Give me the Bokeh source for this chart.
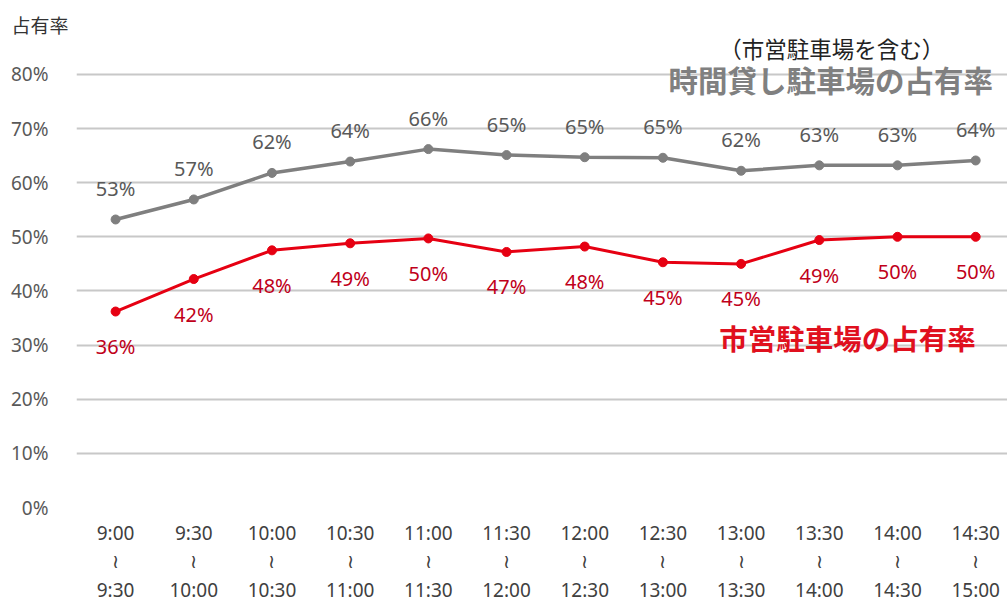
from bokeh.plotting import figure
from bokeh.models import Range1d, FixedTicker, Label, ColumnDataSource
from bokeh.embed import file_html
from bokeh.resources import INLINE
from bokeh.core.properties import value

# ---- data ----
start_times = ["9:00", "9:30", "10:00", "10:30", "11:00", "11:30",
               "12:00", "12:30", "13:00", "13:30", "14:00", "14:30"]
end_times = ["9:30", "10:00", "10:30", "11:00", "11:30", "12:00",
             "12:30", "13:00", "13:30", "14:00", "14:30", "15:00"]
hourly_rate = [53.2, 56.9, 61.8, 63.9, 66.2, 65.1, 64.7, 64.6, 62.2, 63.2, 63.2, 64.1]
hourly_labels = ["53%", "57%", "62%", "64%", "66%", "65%", "65%", "65%", "62%", "63%", "63%", "64%"]
city_rate = [36.2, 42.2, 47.5, 48.8, 49.7, 47.2, 48.2, 45.3, 45.0, 49.4, 50.0, 50.0]
city_labels = ["36%", "42%", "48%", "49%", "50%", "47%", "48%", "45%", "45%", "49%", "50%", "50%"]
y_ticks = [0, 10, 20, 30, 40, 50, 60, 70, 80]

n = len(start_times)
xs = [i + 0.5 for i in range(n)]
cat_labels = [f"{a}\n≀\n{b}" for a, b in zip(start_times, end_times)]

GRAY_LINE = "#7f7f7f"
GRAY_TEXT = "#595959"
RED_LINE = "#e60012"
RED_TEXT = "#c0001a"
NUM_FONT = "Noto Sans"
JP_FONT = "Noto Sans CJK JP"

p = figure(width=1007, height=605, output_backend="svg", toolbar_location=None,
           x_range=Range1d(0, 11.907), y_range=Range1d(0, 87.0),
           min_border_left=76, min_border_right=0, min_border_top=36, min_border_bottom=96)
p.outline_line_color = None
p.background_fill_color = "white"
p.border_fill_color = "white"

# title used as y-axis caption at top left
p.title.text = "占有率"
p.title.align = "left"
p.title.offset = -65
p.title.standoff = -2
p.title.text_font = JP_FONT
p.title.text_font_size = "19px"
p.title.text_font_style = "normal"
p.title.text_color = "#333333"

# grid
p.xgrid.grid_line_color = None
p.ygrid.ticker = FixedTicker(ticks=y_ticks)
p.ygrid.grid_line_color = "#c8c8c8"
p.ygrid.grid_line_width = 2

# y axis
p.yaxis.ticker = FixedTicker(ticks=y_ticks)
p.yaxis.major_label_overrides = {t: f"{t}%" for t in y_ticks}
p.yaxis.axis_line_color = None
p.yaxis.major_tick_line_color = None
p.yaxis.minor_tick_line_color = None
p.yaxis.major_label_standoff = 22
p.yaxis.major_label_text_font = NUM_FONT
p.yaxis.major_label_text_font_size = "19px"
p.yaxis.major_label_text_color = GRAY_TEXT

# x axis
p.xaxis.ticker = FixedTicker(ticks=xs)
p.xaxis.major_label_overrides = {x: lab for x, lab in zip(xs, cat_labels)}
p.xaxis.axis_line_color = None
p.xaxis.major_tick_line_color = None
p.xaxis.minor_tick_line_color = None
p.xaxis.major_label_standoff = 6
p.xaxis.major_label_text_font = NUM_FONT
p.xaxis.major_label_text_font_size = "19px"
p.xaxis.major_label_text_color = "#404040"
p.xaxis.major_label_text_line_height = 1.1

src = ColumnDataSource(dict(x=xs, h=hourly_rate, hl=hourly_labels, c=city_rate, cl=city_labels))

# series
p.line("x", "h", source=src, line_color=GRAY_LINE, line_width=3.5)
p.scatter("x", "h", source=src, size=9, fill_color=GRAY_LINE, line_color=GRAY_LINE)
p.line("x", "c", source=src, line_color=RED_LINE, line_width=3)
p.scatter("x", "c", source=src, size=9, fill_color=RED_LINE, line_color=RED_LINE)

# data labels
p.text("x", "h", text="hl", source=src, y_offset=-31, text_align="center",
       text_baseline="middle", text_font=value(NUM_FONT), text_font_size="20px",
       text_color=GRAY_TEXT)
p.text("x", "c", text="cl", source=src, y_offset=35, text_align="center",
       text_baseline="middle", text_font=value(NUM_FONT), text_font_size="20px",
       text_color=RED_TEXT)

# annotations
p.add_layout(Label(x=9.66, y=84.8, text="（市営駐車場を含む）", text_align="center",
                   text_baseline="middle", text_font=JP_FONT, text_font_size="22.5px",
                   text_color="#222222"))
p.add_layout(Label(x=11.72, y=79.1, text="時間貸し駐車場の占有率", text_align="right",
                   text_baseline="middle", text_font=JP_FONT, text_font_size="29.5px",
                   text_font_style="bold", text_color="#808080"))
p.add_layout(Label(x=11.5, y=31.4, text="市営駐車場の占有率", text_align="right",
                   text_baseline="middle", text_font=JP_FONT, text_font_size="28.5px",
                   text_font_style="bold", text_color="#e0101e"))

open("out.html", "w").write(file_html(p, INLINE))
